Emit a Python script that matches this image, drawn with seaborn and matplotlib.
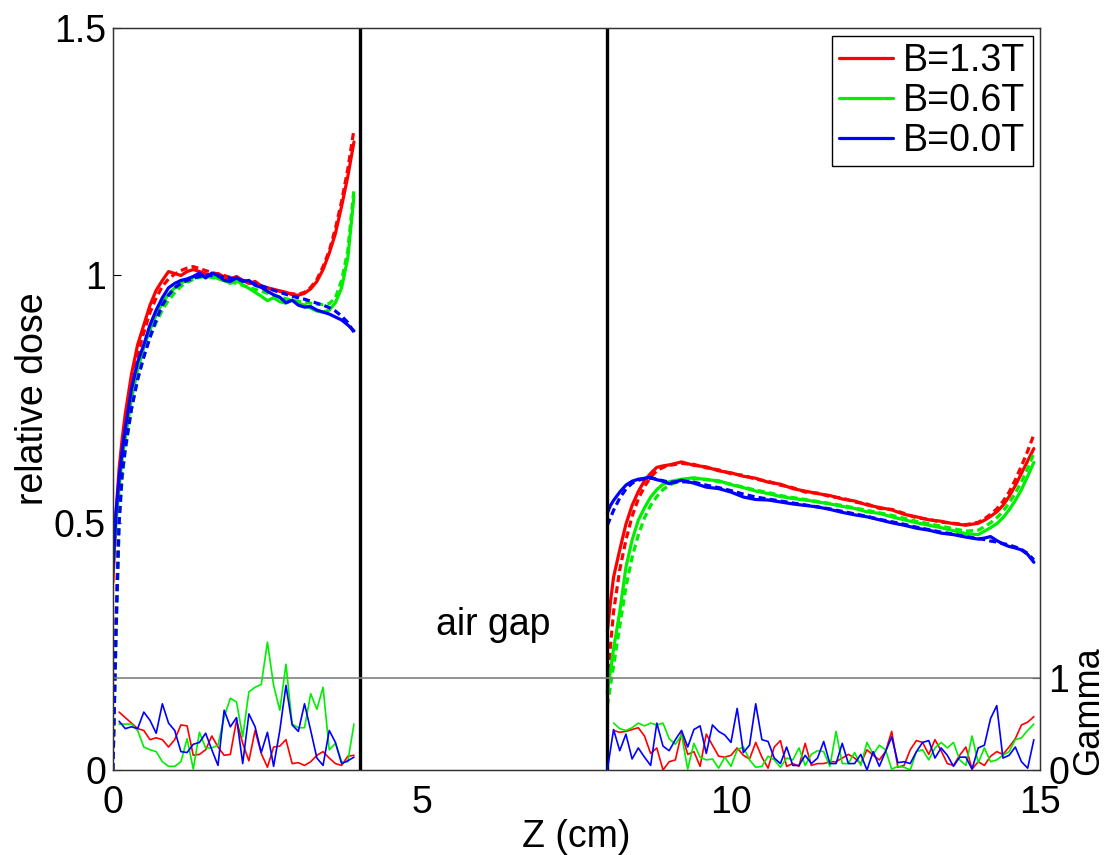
import numpy as np
import pandas as pd
import matplotlib
matplotlib.use("Agg")
import matplotlib.pyplot as plt
import seaborn as sns

# ---------------- data ----------------
labels = ["B=1.3T", "B=0.6T", "B=0.0T"]
colors = ["#ff0000", "#00ee00", "#0000ff"]

# dose, first phantom slab (0-4 cm)
x_d1 = [0.0, 0.05, 0.1, 0.15, 0.2, 0.3, 0.4, 0.5, 0.6, 0.7, 0.8, 0.9,
        1.0, 1.1, 1.2, 1.3, 1.4, 1.5, 1.6, 1.7, 1.8, 1.9,
        2.0, 2.1, 2.2, 2.3, 2.4, 2.5, 2.6, 2.7, 2.8, 2.9,
        3.0, 3.1, 3.2, 3.3, 3.4, 3.5, 3.6, 3.7, 3.8, 3.9]
red_meas_1 = [0.38, 0.52, 0.61, 0.67, 0.72, 0.80, 0.86, 0.90, 0.94, 0.97, 0.99, 1.008,
              1.004, 1.0, 1.008, 1.012, 1.008, 1.003, 1.0, 1.004, 0.997, 0.993,
              0.998, 0.99, 0.984, 0.988, 0.979, 0.975, 0.972, 0.969, 0.966, 0.961,
              0.960, 0.964, 0.973, 0.988, 1.012, 1.045, 1.085, 1.14, 1.20, 1.27]
red_sim_1 = [0.0, 0.30, 0.54, 0.63, 0.69, 0.77, 0.84, 0.885, 0.925, 0.955, 0.978, 0.993,
             1.003, 1.01, 1.015, 1.018, 1.014, 1.01, 1.006, 1.003, 1.0, 0.996,
             0.993, 0.99, 0.986, 0.982, 0.978, 0.975, 0.971, 0.968, 0.965, 0.963,
             0.962, 0.966, 0.976, 0.992, 1.018, 1.05, 1.095, 1.15, 1.215, 1.295]
green_meas_1 = [0.40, 0.50, 0.57, 0.63, 0.67, 0.75, 0.81, 0.855, 0.89, 0.92, 0.945, 0.962,
                0.975, 0.985, 0.99, 0.996, 1.0, 0.997, 1.0, 0.994, 0.99, 0.984,
                0.99, 0.981, 0.974, 0.966, 0.958, 0.949, 0.955, 0.947, 0.944, 0.95,
                0.944, 0.94, 0.934, 0.928, 0.926, 0.93, 0.945, 0.975, 1.035, 1.16]
green_sim_1 = [0.0, 0.26, 0.50, 0.59, 0.645, 0.73, 0.79, 0.84, 0.875, 0.905, 0.93, 0.95,
               0.965, 0.978, 0.986, 0.992, 0.996, 0.998, 0.996, 0.993, 0.99, 0.987,
               0.984, 0.98, 0.976, 0.972, 0.968, 0.964, 0.96, 0.956, 0.953, 0.95,
               0.948, 0.946, 0.944, 0.942, 0.941, 0.943, 0.955, 0.99, 1.05, 1.175]
blue_meas_1 = [0.40, 0.52, 0.59, 0.645, 0.69, 0.77, 0.825, 0.86, 0.90, 0.93, 0.955, 0.975,
               0.984, 0.99, 0.993, 0.998, 1.005, 0.995, 1.005, 1.0, 0.99, 0.988,
               0.995, 0.988, 0.99, 0.98, 0.976, 0.968, 0.961, 0.956, 0.945, 0.95,
               0.94, 0.936, 0.937, 0.93, 0.926, 0.922, 0.916, 0.91, 0.9, 0.888]
blue_sim_1 = [0.0, 0.28, 0.50, 0.60, 0.65, 0.73, 0.79, 0.835, 0.875, 0.91, 0.94, 0.96,
              0.975, 0.984, 0.99, 0.994, 0.998, 1.0, 1.0, 0.999, 0.997, 0.995,
              0.993, 0.99, 0.987, 0.983, 0.979, 0.975, 0.97, 0.966, 0.962, 0.958,
              0.955, 0.952, 0.948, 0.944, 0.94, 0.935, 0.928, 0.918, 0.905, 0.885]

# dose, second phantom slab (8-15 cm)
x_d2 = [8.0, 8.05, 8.1, 8.2, 8.3, 8.4, 8.5, 8.6, 8.7, 8.8, 8.9, 9.0,
        9.2, 9.4, 9.6, 9.8, 10.0, 10.2, 10.4, 10.6, 10.8, 11.0, 11.2, 11.4,
        11.6, 11.8, 12.0, 12.2, 12.4, 12.6, 12.8, 13.0, 13.2, 13.4, 13.6, 13.8,
        14.0, 14.1, 14.2, 14.3, 14.4, 14.5, 14.6, 14.7, 14.8, 14.9]
red_meas_2 = [0.28, 0.34, 0.39, 0.445, 0.497, 0.535, 0.563, 0.585, 0.60, 0.612, 0.615, 0.617,
              0.623, 0.616, 0.613, 0.605, 0.601, 0.594, 0.59, 0.582, 0.578, 0.569, 0.564, 0.559,
              0.555, 0.548, 0.544, 0.536, 0.531, 0.526, 0.517, 0.512, 0.506, 0.503, 0.498, 0.495,
              0.499, 0.505, 0.513, 0.522, 0.535, 0.553, 0.575, 0.60, 0.625, 0.65]
red_sim_2 = [0.155, 0.25, 0.32, 0.405, 0.465, 0.513, 0.548, 0.573, 0.592, 0.605, 0.612, 0.616,
             0.62, 0.618, 0.611, 0.607, 0.599, 0.596, 0.588, 0.584, 0.576, 0.571, 0.562, 0.56,
             0.553, 0.55, 0.542, 0.538, 0.529, 0.527, 0.519, 0.51, 0.507, 0.501, 0.499, 0.496,
             0.501, 0.508, 0.517, 0.528, 0.543, 0.562, 0.587, 0.615, 0.645, 0.678]
green_meas_2 = [0.16, 0.20, 0.245, 0.32, 0.41, 0.465, 0.505, 0.53, 0.552, 0.567, 0.578, 0.583,
                0.588, 0.591, 0.587, 0.585, 0.577, 0.571, 0.564, 0.559, 0.553, 0.549, 0.546, 0.542,
                0.538, 0.533, 0.529, 0.522, 0.519, 0.512, 0.506, 0.50, 0.495, 0.49, 0.484, 0.478,
                0.476, 0.483, 0.49, 0.498, 0.51, 0.526, 0.545, 0.567, 0.594, 0.622]
green_sim_2 = [0.13, 0.17, 0.21, 0.29, 0.37, 0.43, 0.475, 0.51, 0.535, 0.553, 0.567, 0.576,
               0.586, 0.589, 0.588, 0.583, 0.578, 0.572, 0.566, 0.561, 0.555, 0.551, 0.547, 0.543,
               0.539, 0.535, 0.53, 0.525, 0.52, 0.515, 0.509, 0.503, 0.498, 0.493, 0.488, 0.483,
               0.485, 0.492, 0.5, 0.51, 0.523, 0.54, 0.56, 0.583, 0.61, 0.64]
blue_meas_2 = [0.52, 0.535, 0.545, 0.562, 0.576, 0.584, 0.588, 0.59, 0.592, 0.587, 0.584, 0.579,
               0.586, 0.58, 0.572, 0.569, 0.562, 0.552, 0.547, 0.546, 0.542, 0.538, 0.535, 0.532,
               0.527, 0.521, 0.516, 0.512, 0.506, 0.5, 0.495, 0.489, 0.485, 0.479, 0.476, 0.471,
               0.467, 0.469, 0.472, 0.464, 0.457, 0.452, 0.449, 0.445, 0.436, 0.42]
blue_sim_2 = [0.495, 0.51, 0.525, 0.55, 0.568, 0.58, 0.586, 0.589, 0.59, 0.588, 0.585, 0.582,
              0.583, 0.582, 0.576, 0.571, 0.565, 0.558, 0.552, 0.548, 0.544, 0.54, 0.536, 0.532,
              0.528, 0.523, 0.518, 0.513, 0.507, 0.502, 0.497, 0.491, 0.486, 0.481, 0.477, 0.472,
              0.468, 0.466, 0.463, 0.461, 0.458, 0.455, 0.451, 0.446, 0.438, 0.425]

# gamma index, sampled every 0.1 cm
x_g1 = np.round(np.arange(1, 40) * 0.1, 1)          # 0.1 .. 3.9
red_g1 = [0.63, 0.57, 0.51, 0.45, 0.43, 0.33, 0.35, 0.33, 0.25, 0.33,
          0.49, 0.48, 0.16, 0.17, 0.22, 0.37, 0.25, 0.16, 0.17, 0.54,
          0.29, 0.10, 0.43, 0.18, 0.03, 0.25, 0.26, 0.33, 0.07, 0.08,
          0.05, 0.09, 0.16, 0.20, 0.13, 0.07, 0.05, 0.15, 0.16]
green_g1 = [0.50, 0.50, 0.50, 0.43, 0.25, 0.22, 0.20, 0.09, 0.04, 0.04,
            0.09, 0.34, 0.01, 0.41, 0.24, 0.24, 0.27, 0.58, 0.78, 0.74,
            0.36, 0.85, 0.90, 0.93, 1.39, 0.92, 0.65, 1.15, 0.50, 0.46,
            0.46, 0.83, 0.66, 0.90, 0.22, 0.29, 0.09, 0.09, 0.50]
blue_g1 = [0.53, 0.45, 0.47, 0.45, 0.63, 0.54, 0.40, 0.72, 0.51, 0.43,
           0.20, 0.19, 0.28, 0.30, 0.40, 0.22, 0.05, 0.65, 0.47, 0.57,
           0.07, 0.61, 0.47, 0.19, 0.41, 0.04, 0.43, 0.92, 0.49, 0.42,
           0.72, 0.43, 0.13, 0.05, 0.43, 0.30, 0.07, 0.10, 0.14]

x_g2 = np.round(np.arange(81, 150) * 0.1, 1)        # 8.1 .. 14.9
x_g2_blue = np.round(np.arange(80, 150) * 0.1, 1)   # 8.0 .. 14.9
red_g2 = [0.43, 0.41, 0.42, 0.44, 0.46, 0.37, 0.18, 0.24, 0.0, 0.09,
          0.11, 0.40, 0.17, 0.20, 0.04, 0.39, 0.27, 0.15, 0.14, 0.16,
          0.24, 0.16, 0.12, 0.30, 0.14, 0.02, 0.25, 0.32, 0.04, 0.07,
          0.04, 0.29, 0.05, 0.07,
          0.07, 0.09, 0.09, 0.13, 0.17, 0.13, 0.07, 0.22, 0.16, 0.11,
          0.20, 0.42, 0.03, 0.05, 0.22, 0.32, 0.30, 0.17, 0.33, 0.21,
          0.07, 0.05, 0.16, 0.25, 0.01, 0.09, 0.05, 0.15, 0.20, 0.17,
          0.25, 0.34, 0.49, 0.52, 0.58]
green_g2 = [0.51, 0.45, 0.43, 0.46, 0.51, 0.48, 0.51, 0.49, 0.51, 0.34,
            0.28, 0.38, 0.01, 0.29, 0.14, 0.11, 0.12, 0.02, 0.14, 0.04,
            0.22, 0.25, 0.11, 0.03, 0.04, 0.15, 0.11, 0.03, 0.13, 0.11,
            0.24, 0.05, 0.17, 0.21,
            0.20, 0.04, 0.42, 0.07, 0.07, 0.19, 0.05, 0.30, 0.17, 0.27,
            0.22, 0.01, 0.04, 0.03, 0.0, 0.20, 0.22, 0.11, 0.24, 0.30,
            0.24, 0.30, 0.11, 0.05, 0.37, 0.08, 0.24, 0.09, 0.11, 0.16,
            0.20, 0.33, 0.35, 0.43, 0.50]
blue_g2 = [0.0, 0.44, 0.21, 0.39, 0.12, 0.24, 0.14, 0.05, 0.51, 0.26,
           0.21, 0.33, 0.43, 0.25, 0.44, 0.48, 0.18, 0.49, 0.42, 0.38,
           0.30, 0.67, 0.19, 0.27, 0.72, 0.33, 0.31, 0.13, 0.07, 0.25,
           0.05, 0.05, 0.16, 0.07, 0.13,
           0.31, 0.07, 0.07, 0.29, 0.07, 0.07, 0.17, 0.0, 0.20, 0.04,
           0.20, 0.36, 0.08, 0.09, 0.07, 0.20, 0.30, 0.32, 0.13, 0.24,
           0.16, 0.04, 0.14, 0.14, 0.01, 0.24, 0.27, 0.56, 0.70, 0.13,
           0.16, 0.25, 0.09, 0.02, 0.33]

slab_edges = [4, 8]
x_ticks = [0, 5, 10, 15]
y_ticks = [0, 0.5, 1, 1.5]
gamma_ticks = [0, 1]

# ---------------- figure ----------------
sns.set_theme(style="white")
plt.rcParams["font.family"] = ["Liberation Sans", "DejaVu Sans"]
plt.rcParams["text.color"] = "black"
plt.rcParams["axes.labelcolor"] = "black"
FS = 27

fig = plt.figure(figsize=(11.07, 8.55), dpi=100)
ax = fig.add_axes([0.102, 0.0994, 0.8375, 0.8676])
ax2 = ax.twinx()

meas = [(red_meas_1, red_meas_2), (green_meas_1, green_meas_2), (blue_meas_1, blue_meas_2)]
sims = [(red_sim_1, red_sim_2), (green_sim_1, green_sim_2), (blue_sim_1, blue_sim_2)]
gam = [((x_g1, red_g1), (x_g2, red_g2)),
       ((x_g1, green_g1), (x_g2, green_g2)),
       ((x_g1, blue_g1), (x_g2_blue, blue_g2))]

# gamma (thin) on right axis
for c, segs in zip(colors, gam):
    for xs, ys in segs:
        sns.lineplot(x=list(xs), y=ys, ax=ax2, color=c, lw=1.2,
                     estimator=None, sort=False, legend=False)

# dose curves on left axis
for lab, c, (m1, m2), (s1, s2) in zip(labels, colors, meas, sims):
    sns.lineplot(x=x_d1, y=m1, ax=ax, color=c, lw=2.3, estimator=None,
                 sort=False, label=lab)
    sns.lineplot(x=x_d2, y=m2, ax=ax, color=c, lw=2.3, estimator=None,
                 sort=False, legend=False)
    for xs, ys in ((x_d1, s1), (x_d2, s2)):
        l = sns.lineplot(x=xs, y=ys, ax=ax, color=c, lw=2.3, estimator=None,
                         sort=False, legend=False).lines[-1]
        l.set_dashes((2.2, 1.3))

for e in slab_edges:
    ax.axvline(e, color="black", lw=2.4, zorder=5)
ax2.axhline(1, color="#808080", lw=1.2, zorder=1)

ax.set_xlim(0, 15)
ax.set_ylim(0, 1.5)
ax2.set_ylim(0, 742 / 92)
ax.set_xticks(x_ticks)
ax.set_xticklabels([str(t) for t in x_ticks])
ax.set_yticks(y_ticks)
ax.set_yticklabels(["0", "0.5", "1", "1.5"])
ax2.set_yticks(gamma_ticks)
ax2.set_yticklabels(["0", "1"])

ax.tick_params(axis="x", direction="in", length=6, width=0.8, labelsize=FS, pad=11,
               colors="black", top=False)
ax.tick_params(axis="y", direction="in", length=6, width=0.8, labelsize=FS, pad=5,
               colors="black", left=True)
ax2.tick_params(axis="y", direction="in", length=6, width=0.8, labelsize=FS, pad=6,
                colors="black", right=True)

for a in (ax, ax2):
    for s in a.spines.values():
        s.set_color("#333333")
        s.set_linewidth(0.9)

ax.set_xlabel("Z (cm)", fontsize=FS, labelpad=-2)
ax.set_ylabel("relative dose", fontsize=FS, labelpad=2)
ax2.set_ylabel("Gamma", fontsize=FS - 1)
ax2.yaxis.set_label_coords(1.034, 0.08)

ax.text(6.15, 0.293, "air gap", fontsize=FS, ha="center", va="center")

ax.get_legend().remove()
h, l = ax.get_legend_handles_labels()
leg = ax2.legend(h, l, loc="upper right", fontsize=FS, frameon=True, fancybox=False,
                 edgecolor="black", framealpha=1, borderaxespad=0.2,
                 handlelength=1.45, handletextpad=0.25, labelspacing=0.1,
                 borderpad=0.2)
leg.get_frame().set_linewidth(1.0)
for hl in leg.get_lines():
    hl.set_linestyle("-")
    hl.set_linewidth(2.3)

fig.savefig("out.png", dpi=100)
